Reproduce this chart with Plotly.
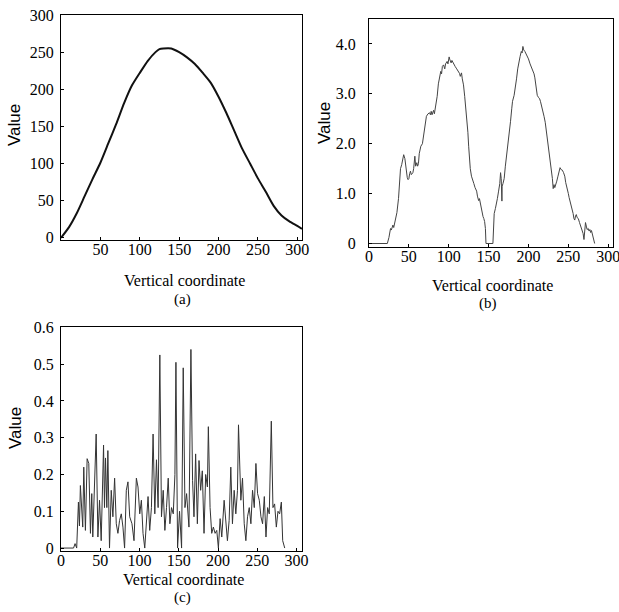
import plotly.graph_objects as go

# ---------------- data ----------------
# (a) smooth profile
a_x = [0, 10, 20, 30, 40, 50, 60, 70, 80, 90, 100, 110, 120, 125, 130, 140, 150, 160,
       170, 180, 190, 200, 210, 220, 230, 240, 250, 260, 270, 280, 290, 300, 306]
a_y = [0, 14, 33, 56, 79, 101, 127, 153, 181, 205, 222, 238, 250, 254, 255, 255, 250, 243,
       234, 222, 209, 190, 168, 144, 120, 100, 80, 62, 43, 30, 22, 16, 12]

# (b) noisy double-hump profile
b_x = [0, 23, 25, 27, 28, 30, 31, 33, 35, 37, 38.5, 39.5, 41, 42, 43.5, 45, 46, 47, 48, 49,
       50, 51, 52, 53, 55, 56, 57.5, 58.5, 60, 61, 62, 63, 65, 67, 68.5, 70, 72, 74, 76, 77,
       78, 79, 81, 82, 84, 85.5, 87, 89, 90, 91, 92, 93.5, 95, 96, 98, 99, 100.5, 101.5, 103,
       104, 106, 108, 110, 112, 113.5, 114.5, 116, 117, 118.5, 120, 121.5, 123, 124, 125,
       126, 127, 128.5, 130, 131.5, 133, 135, 136, 137.5, 138.5, 139.5, 141, 142, 143, 144,
       145, 146, 146.7, 155.4, 156, 157, 158.5, 160, 161, 162.5, 164, 165, 165.8, 166.7, 167,
       168, 169.5, 171, 173, 174.5, 176, 177.5, 179, 180, 182, 183.5, 185, 186.5, 188, 189.5,
       191, 192, 193, 194, 195.5, 197, 198, 200, 202, 204, 206, 207, 208, 209.5, 211, 212.5,
       214, 215, 216.5, 218, 219.5, 221, 222.5, 224, 225, 226, 227.5, 229, 230, 231, 232, 233,
       234, 235.5, 237, 238.5, 239.6, 241, 242.5, 244, 245.5, 246.7, 248, 249, 250, 251, 253,
       254.5, 256, 257, 258, 259, 260, 261, 262.5, 264, 265.5, 267, 268.5, 269.6, 270.5,
       271.5, 272.5, 273.5, 275, 276, 277, 278, 279, 280, 281, 282, 283]
b_y = [0, 0, 0.12, 0.3, 0.27, 0.37, 0.32, 0.5, 0.62, 0.9, 1.2, 1.5, 1.58, 1.65, 1.78, 1.7,
       1.55, 1.4, 1.32, 1.28, 1.3, 1.4, 1.45, 1.38, 1.42, 1.5, 1.75, 1.55, 1.62, 1.55, 1.6,
       1.8, 1.95, 2.0, 2.15, 2.35, 2.55, 2.6, 2.62, 2.58, 2.65, 2.58, 2.67, 2.6, 2.8, 2.95,
       3.2, 3.42, 3.45, 3.4, 3.55, 3.58, 3.5, 3.6, 3.65, 3.6, 3.74, 3.68, 3.62, 3.67, 3.6,
       3.55, 3.5, 3.45, 3.41, 3.35, 3.42, 3.3, 3.18, 2.95, 2.7, 2.45, 2.23, 1.95, 1.7, 1.5,
       1.35, 1.25, 1.2, 1.12, 1.05, 0.95, 0.86, 0.9, 0.81, 0.7, 0.6, 0.54, 0.5, 0.44, 0.3, 0,
       0, 0.35, 0.6, 0.7, 0.88, 0.9, 1.05, 1.2, 1.42, 1.3, 0.85, 1.15, 1.2, 1.3, 1.55, 1.82,
       2.05, 2.16, 2.45, 2.7, 2.85, 2.97, 3.1, 3.3, 3.5, 3.65, 3.75, 3.85, 3.82, 3.95, 3.88,
       3.85, 3.8, 3.78, 3.7, 3.6, 3.52, 3.48, 3.4, 3.32, 3.1, 2.97, 2.93, 2.9, 2.85, 2.75, 2.7,
       2.55, 2.43, 2.25, 2.03, 1.9, 1.82, 1.65, 1.49, 1.3, 1.1, 1.18, 1.12, 1.2, 1.25, 1.35,
       1.45, 1.52, 1.48, 1.47, 1.42, 1.35, 1.22, 1.1, 1.05, 1.0, 0.92, 0.81, 0.7, 0.6, 0.5,
       0.47, 0.55, 0.58, 0.52, 0.5, 0.42, 0.36, 0.27, 0.2, 0.08, 0.25, 0.42, 0.35, 0.28, 0.3,
       0.25, 0.28, 0.22, 0.26, 0.2, 0.13, 0.05, 0.0]

# (c) spiky profile
c_x = [0, 16, 17.9, 20, 22.2, 23.5, 24.7, 26.2, 27.7, 29, 31.1, 33.3, 35.4, 37.5, 39.2, 40.5,
       42.6, 44.8, 47, 49.1, 51.2, 52.7, 54.2, 55.4, 56.7, 58.4, 59.7, 61.8, 64, 66.1, 68.3,
       70.4, 72.5, 74.6, 76.8, 78.9, 81, 83.2, 85.3, 87.5, 90.4, 93, 96, 98.1, 100.3, 102.4,
       104.5, 106.7, 108.8, 110.9, 113, 115.2, 117.3, 119.5, 121.6, 123.7, 125.9, 128, 130.2,
       132.3, 134.4, 136.6, 138.7, 140.8, 143, 145.1, 146.4, 148.5, 151, 153.6, 155.7, 157.9,
       160, 163, 165.5, 167.6, 169.4, 171.5, 173.7, 175.8, 177.9, 180, 182.2, 184.3, 186.5,
       187.7, 189.9, 192, 194.1, 196.3, 198.4, 200.5, 202.7, 204.8, 207.8, 209.9, 212, 214.2,
       216.3, 218.4, 220.6, 222.7, 224.8, 226.1, 227.4, 229.1, 231.2, 233.4, 235.5, 237.6,
       239.8, 241.9, 244, 246.2, 248.3, 250.4, 252.6, 254.7, 256.8, 259, 261.1, 263.2, 265.3,
       267.9, 270, 272.1, 274.3, 276.4, 278.5, 280.7, 282.4, 285]
c_y = [0, 0, 0.012, 0, 0.125, 0.06, 0.17, 0.09, 0.057, 0.22, 0.048, 0.243, 0.23, 0.04, 0.148,
       0.03, 0.185, 0.31, 0.03, 0.13, 0.02, 0.12, 0.28, 0.11, 0.245, 0.11, 0.265, 0.0, 0.157,
       0.085, 0.19, 0.066, 0.04, 0.075, 0.093, 0.057, 0.0, 0.157, 0.18, 0.085, 0.066, 0.02,
       0.19, 0.166, 0.093, 0.13, 0.04, 0.0, 0.066, 0.14, 0.048, 0.11, 0.31, 0.093, 0.24, 0.11,
       0.525, 0.085, 0.157, 0.048, 0.11, 0.19, 0.066, 0.11, 0.093, 0.2, 0.505, 0.0, 0.1, 0.0,
       0.49, 0.11, 0.148, 0.057, 0.54, 0.184, 0.085, 0.256, 0.066, 0.238, 0.157, 0.21, 0.04,
       0.2, 0.166, 0.33, 0.11, 0.04, 0.057, 0.04, 0.048, 0.0, 0.08, 0.03, 0.13, 0.075, 0.02,
       0.075, 0.22, 0.066, 0.157, 0.093, 0.157, 0.335, 0.24, 0.13, 0.19, 0.066, 0.02, 0.085,
       0.11, 0.066, 0.157, 0.11, 0.23, 0.148, 0.13, 0.085, 0.066, 0.14, 0.03, 0.11, 0.093,
       0.345, 0.11, 0.12, 0.057, 0.1, 0.093, 0.125, 0.02, 0.0]

# tick labels
a_xticks = [50, 100, 150, 200, 250, 300]
a_yticks = [0, 50, 100, 150, 200, 250, 300]
b_xticks = [0, 50, 100, 150, 200, 250, 300]
b_yticks = [0, 1, 2, 3, 4]
b_ytext = ["0", "1.0", "2.0", "3.0", "4.0"]
c_xticks = [0, 50, 100, 150, 200, 250, 300]
c_yticks = [0, 0.1, 0.2, 0.3, 0.4, 0.5, 0.6]
c_ytext = ["0", "0.1", "0.2", "0.3", "0.4", "0.5", "0.6"]

# ---------------- figure ----------------
W, H = 619, 612
SERIF = "Liberation Serif"
SANS = "Liberation Sans"

fig = go.Figure()
fig.add_trace(go.Scatter(x=a_x, y=a_y, mode="lines",
                         line=dict(color="#111111", width=2, shape="spline", smoothing=0.6),
                         xaxis="x", yaxis="y", showlegend=False, hoverinfo="skip"))
fig.add_trace(go.Scatter(x=b_x, y=b_y, mode="lines", line=dict(color="#444444", width=1),
                         xaxis="x2", yaxis="y2", showlegend=False, hoverinfo="skip"))
fig.add_trace(go.Scatter(x=c_x, y=c_y, mode="lines", line=dict(color="#333333", width=1),
                         xaxis="x3", yaxis="y3", showlegend=False, hoverinfo="skip"))


def px_dom_x(l, r):
    return [l / W, r / W]


def px_dom_y(t, b):
    return [1 - b / H, 1 - t / H]


axis_common = dict(showline=True, linecolor="black", linewidth=1, mirror=True, showgrid=False,
                   zeroline=False, ticks="inside", ticklen=3, tickcolor="black",
                   ticklabeloverflow="allow",
                   tickfont=dict(family=SERIF, size=16, color="black"))

XSTAND = -5

fig.update_layout(
    width=W, height=H,
    margin=dict(l=0, r=0, t=0, b=0, autoexpand=False),
    paper_bgcolor="white", plot_bgcolor="white",
    xaxis=dict(domain=px_dom_x(61, 302), range=[0, 306], anchor="y", tickvals=a_xticks,
               ticklabelstandoff=XSTAND, **axis_common),
    yaxis=dict(domain=px_dom_y(15, 240), range=[-3, 300], anchor="x", tickvals=a_yticks,
               ticklabelstandoff=3, **axis_common),
    xaxis2=dict(domain=px_dom_x(369, 613), range=[0, 306], anchor="y2", tickvals=b_xticks,
                ticklabelstandoff=XSTAND, **axis_common),
    yaxis2=dict(domain=px_dom_y(19, 247), range=[-0.07, 4.5], anchor="x2", tickvals=b_yticks,
                ticktext=b_ytext, ticklabelstandoff=9, **axis_common),
    xaxis3=dict(domain=px_dom_x(61, 302), range=[0, 307], anchor="y3", tickvals=c_xticks,
                ticklabelstandoff=XSTAND, **axis_common),
    yaxis3=dict(domain=px_dom_y(327, 551), range=[-0.008, 0.601], anchor="x3", tickvals=c_yticks,
                ticktext=c_ytext, ticklabelstandoff=3, **axis_common),
)


def ann(text, x, y, font, size, angle=0):
    fig.add_annotation(text=text, x=x / W, y=1 - y / H, xref="paper", yref="paper",
                       showarrow=False, xanchor="center", yanchor="middle", textangle=angle,
                       font=dict(family=font, size=size, color="black"))


ann("Vertical coordinate", 184, 281, SERIF, 16)
ann("(a)", 182, 299, SERIF, 15)
ann("Vertical coordinate", 492, 285, SERIF, 16)
ann("(b)", 488, 303, SERIF, 15)
ann("Vertical coordinate", 183, 579, SERIF, 16)
ann("(c)", 182, 597, SERIF, 15)
ann("Value", 15, 125, SANS, 17, -90)
ann("Value", 325, 123, SANS, 17, -90)
ann("Value", 15, 428, SANS, 17, -90)

fig.write_html("out.html", config={"displayModeBar": False},
               post_script="document.body.style.margin='0';document.body.style.overflow='hidden';")
